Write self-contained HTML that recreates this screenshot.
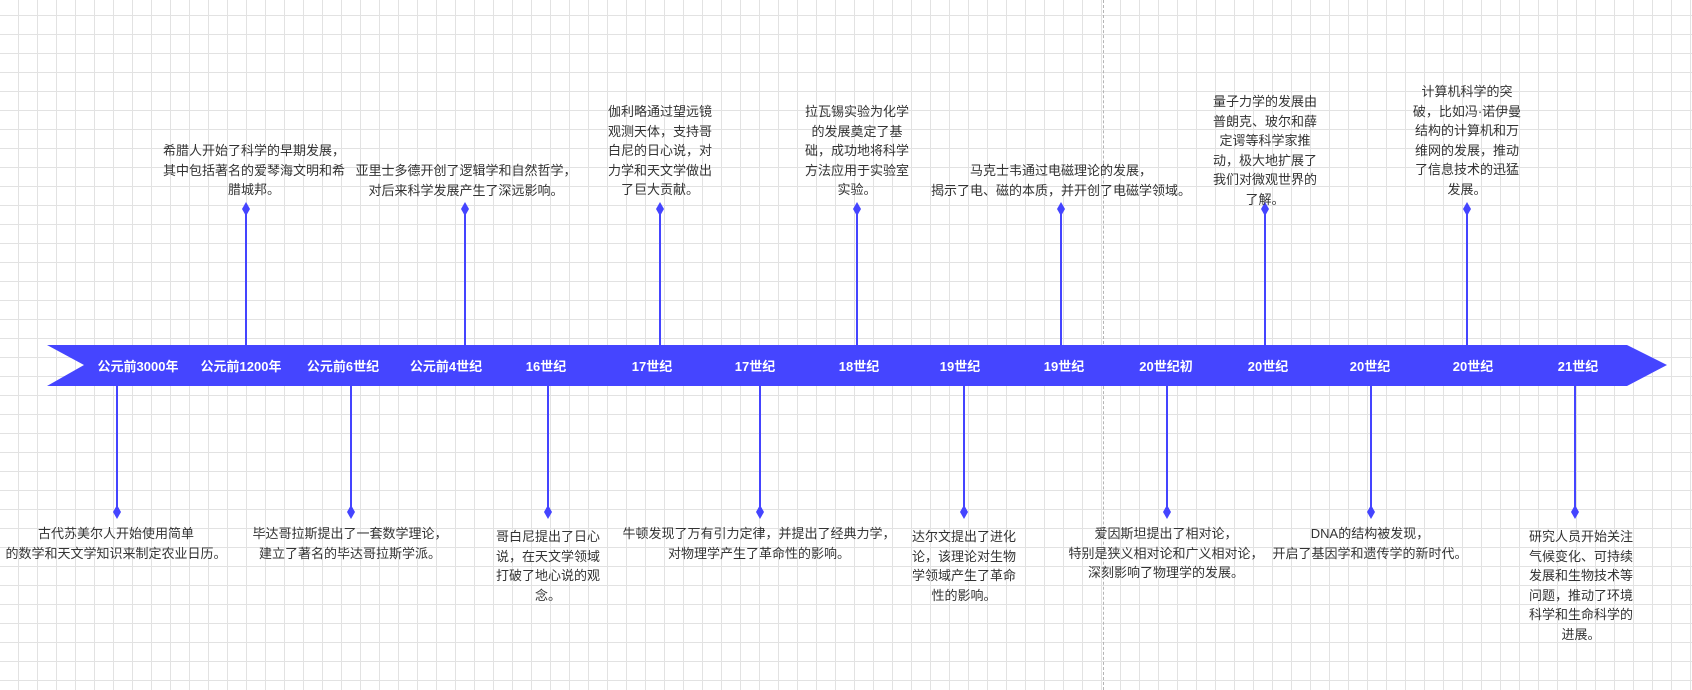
<!DOCTYPE html>
<html><head><meta charset="utf-8"><style>
html,body{margin:0;padding:0}
body{width:1692px;height:690px;position:relative;overflow:hidden;background:#fff;
background-image:linear-gradient(#e2e2e2 1px,transparent 1px),linear-gradient(90deg,#e2e2e2 1px,transparent 1px);
background-size:19px 19px;background-position:18px 15px;
font-family:"Liberation Sans","Noto Sans CJK SC",sans-serif}
.t{position:absolute;color:#333;font-size:13px;line-height:19.5px;text-align:center;transform:translateX(-50%)}
.l{position:absolute;color:#fff;font-size:13px;font-weight:bold;top:356px;transform:translateX(-50%);white-space:nowrap}
.v{position:absolute;width:1.5px;background:#4444ff}
.d{position:absolute;width:8px;height:14px;background:#4444ff;clip-path:polygon(50% 0,100% 50%,50% 100%,0 50%);transform:translateX(-50%)}
</style></head><body>
<div style="position:absolute;left:1103px;top:0;height:690px;border-left:1.5px dashed #b5b5b5"></div>
<svg style="position:absolute;left:0;top:0" width="1692" height="690"><polygon points="47,345 1627,345 1667,365 1627,386 47,386 84,365" fill="#4545ff"/></svg>

<div class="l" style="left:138px">公元前3000年</div>
<div class="l" style="left:241px">公元前1200年</div>
<div class="l" style="left:343px">公元前6世纪</div>
<div class="l" style="left:446px">公元前4世纪</div>
<div class="l" style="left:546px">16世纪</div>
<div class="l" style="left:652px">17世纪</div>
<div class="l" style="left:755px">17世纪</div>
<div class="l" style="left:859px">18世纪</div>
<div class="l" style="left:960px">19世纪</div>
<div class="l" style="left:1064px">19世纪</div>
<div class="l" style="left:1166px">20世纪初</div>
<div class="l" style="left:1268px">20世纪</div>
<div class="l" style="left:1370px">20世纪</div>
<div class="l" style="left:1473px">20世纪</div>
<div class="l" style="left:1578px">21世纪</div>

<div class="v" style="left:245px;top:210px;height:135px"></div><div class="d" style="left:246px;top:202px"></div>
<div class="v" style="left:464px;top:210px;height:135px"></div><div class="d" style="left:465px;top:202px"></div>
<div class="v" style="left:659px;top:210px;height:135px"></div><div class="d" style="left:660px;top:202px"></div>
<div class="v" style="left:856px;top:210px;height:135px"></div><div class="d" style="left:857px;top:202px"></div>
<div class="v" style="left:1060px;top:210px;height:135px"></div><div class="d" style="left:1061px;top:202px"></div>
<div class="v" style="left:1264px;top:210px;height:135px"></div><div class="d" style="left:1265px;top:202px"></div>
<div class="v" style="left:1466px;top:210px;height:135px"></div><div class="d" style="left:1467px;top:202px"></div>

<div class="v" style="left:116px;top:386px;height:126px"></div><div class="d" style="left:117px;top:505px"></div>
<div class="v" style="left:350px;top:386px;height:126px"></div><div class="d" style="left:351px;top:505px"></div>
<div class="v" style="left:547px;top:386px;height:126px"></div><div class="d" style="left:548px;top:505px"></div>
<div class="v" style="left:759px;top:386px;height:126px"></div><div class="d" style="left:760px;top:505px"></div>
<div class="v" style="left:963px;top:386px;height:126px"></div><div class="d" style="left:964px;top:505px"></div>
<div class="v" style="left:1166px;top:386px;height:126px"></div><div class="d" style="left:1167px;top:505px"></div>
<div class="v" style="left:1370px;top:386px;height:126px"></div><div class="d" style="left:1371px;top:505px"></div>
<div class="v" style="left:1574px;top:386px;height:126px"></div><div class="d" style="left:1575px;top:505px"></div>

<div class="t" style="left:254px;top:141px;width:260px">希腊人开始了科学的早期发展，<br>其中包括著名的爱琴海文明和希<br>腊城邦。</div>
<div class="t" style="left:466px;top:161px;width:280px;white-space:nowrap">亚里士多德开创了逻辑学和自然哲学，<br>对后来科学发展产生了深远影响。</div>
<div class="t" style="left:660px;top:102px;width:112px">伽利略通过望远镜观测天体，支持哥白尼的日心说，对力学和天文学做出了巨大贡献。</div>
<div class="t" style="left:857px;top:102px;width:112px">拉瓦锡实验为化学的发展奠定了基础，成功地将科学方法应用于实验室实验。</div>
<div class="t" style="left:1061px;top:161px;width:280px;white-space:nowrap">马克士韦通过电磁理论的发展，<br>揭示了电、磁的本质，并开创了电磁学领域。</div>
<div class="t" style="left:1265px;top:92px;width:112px">量子力学的发展由普朗克、玻尔和薛定谔等科学家推动，极大地扩展了我们对微观世界的了解。</div>
<div class="t" style="left:1467px;top:82px;width:112px">计算机科学的突破，比如冯·诺伊曼结构的计算机和万维网的发展，推动了信息技术的迅猛发展。</div>

<div class="t" style="left:116px;top:524px;width:240px;white-space:nowrap">古代苏美尔人开始使用简单<br>的数学和天文学知识来制定农业日历。</div>
<div class="t" style="left:350px;top:524px;width:240px;white-space:nowrap">毕达哥拉斯提出了一套数学理论，<br>建立了著名的毕达哥拉斯学派。</div>
<div class="t" style="left:548px;top:527px;width:108px">哥白尼提出了日心说，在天文学领域打破了地心说的观念。</div>
<div class="t" style="left:759px;top:524px;width:280px;white-space:nowrap">牛顿发现了万有引力定律，并提出了经典力学，<br>对物理学产生了革命性的影响。</div>
<div class="t" style="left:964px;top:527px;width:108px">达尔文提出了进化论，该理论对生物学领域产生了革命性的影响。</div>
<div class="t" style="left:1166px;top:524px;width:240px;white-space:nowrap">爱因斯坦提出了相对论，<br>特别是狭义相对论和广义相对论，<br>深刻影响了物理学的发展。</div>
<div class="t" style="left:1370px;top:524px;width:240px;white-space:nowrap">DNA的结构被发现，<br>开启了基因学和遗传学的新时代。</div>
<div class="t" style="left:1581px;top:527px;width:108px">研究人员开始关注气候变化、可持续发展和生物技术等问题，推动了环境科学和生命科学的进展。</div>
</body></html>
